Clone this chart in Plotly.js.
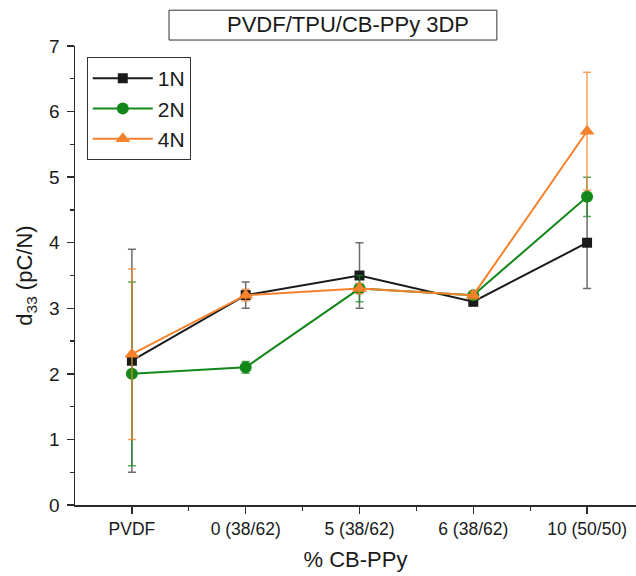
<!DOCTYPE html>
<html>
<head>
<meta charset="utf-8">
<script src="https://cdn.plot.ly/plotly-3.0.1.min.js"></script>
<style>
  html, body { margin: 0; padding: 0; background: #ffffff; }
  #chart { width: 636px; height: 576px; }
</style>
</head>
<body>
<div id="chart"></div>
<script>
// Sample groups along the x axis
const categories = ['PVDF', '0 (38/62)', '5 (38/62)', '6 (38/62)', '10 (50/50)'];

// d33 means and standard deviations for each applied force
const d33_1N = [2.2, 3.2, 3.5, 3.1, 4.0];
const err_1N = [1.7, 0.2, 0.5, 0.06, 0.7];

const d33_2N = [2.0, 2.1, 3.3, 3.2, 4.7];
const err_2N = [1.4, 0.09, 0.2, 0.06, 0.3];

const d33_4N = [2.3, 3.2, 3.3, 3.2, 5.7];
const err_4N = [1.3, 0.09, 0.08, 0.06, 0.9];

const seriesNames = ['1N', '2N', '4N'];
const yTicks = [0, 1, 2, 3, 4, 5, 6, 7];

const FONT = 'Arial, "Liberation Sans", sans-serif';
const AXIS = '#2b2b2b';

// positions of the groups on a linear axis, labelled with the category names
const xIdx = categories.map((_, i) => i);
const halfSteps = [];
for (let i = 0; i < categories.length; i++) halfSteps.push(i + 0.5);
const allSteps = xIdx.concat(halfSteps).sort((a, b) => a - b);

const xRange = [-0.5, 4.43];

function series(name, y, err, color, errColor, symbol, size) {
  return {
    type: 'scatter',
    mode: 'lines+markers',
    name: name,
    x: xIdx,
    y: y,
    line: { color: color, width: 2 },
    marker: { color: color, symbol: symbol, size: size },
    error_y: { type: 'data', array: err, visible: true, color: errColor, thickness: 1.5, width: 4 }
  };
}

const traces = [
  series(seriesNames[0], d33_1N, err_1N, '#1a1a1a', 'rgba(30,30,30,0.65)', 'square', 10),
  series(seriesNames[1], d33_2N, err_2N, '#13881a', 'rgba(19,136,26,0.7)', 'circle', 12),
  series(seriesNames[2], d33_4N, err_4N, '#f5822a', 'rgba(245,130,42,0.75)', 'triangle-up', 13)
];

const layout = {
  width: 636,
  height: 576,
  margin: { l: 75, r: 0, t: 46, b: 71 },
  paper_bgcolor: '#ffffff',
  plot_bgcolor: '#ffffff',
  font: { family: FONT, color: '#1a1a1a', size: 18 },
  showlegend: true,
  legend: {
    x: 0.021, y: 0.976, xanchor: 'left', yanchor: 'top',
    bordercolor: '#333333', borderwidth: 1, bgcolor: '#ffffff',
    font: { family: FONT, size: 21, color: '#1a1a1a' },
    itemwidth: 60,
    tracegroupgap: 0
  },
  xaxis: {
    range: xRange,
    tickmode: 'array',
    tickvals: xIdx,
    ticktext: categories,
    showgrid: false, zeroline: false,
    showline: true, linecolor: AXIS, linewidth: 1.5,
    ticks: 'outside', ticklen: 7, tickwidth: 1.3, tickcolor: AXIS,
    tickfont: { family: FONT, size: 17.5, color: '#1a1a1a' },
    minor: { tickmode: 'array', tickvals: halfSteps, ticks: 'outside', ticklen: 4, tickwidth: 1.3, tickcolor: AXIS, showgrid: false },
    title: { text: '% CB-PPy', font: { family: FONT, size: 22, color: '#1a1a1a' }, standoff: 14 },
    fixedrange: true
  },
  xaxis2: {
    overlaying: 'x', anchor: 'y', side: 'top',
    range: xRange,
    tickmode: 'array', tickvals: allSteps,
    showticklabels: false, showgrid: false, zeroline: false,
    showline: true, linecolor: AXIS, linewidth: 1.5,
    ticks: 'inside', ticklen: 4, tickwidth: 1.2, tickcolor: AXIS
  },
  yaxis: {
    range: [0, 7],
    tickmode: 'array', tickvals: yTicks,
    showgrid: false, zeroline: false,
    showline: true, linecolor: AXIS, linewidth: 1.5,
    ticks: 'outside', ticklen: 7, tickwidth: 1.3, tickcolor: AXIS,
    tickfont: { family: FONT, size: 19, color: '#1a1a1a' },
    ticklabelstandoff: 3,
    minor: { dtick: 0.5, ticks: 'outside', ticklen: 4, tickwidth: 1.3, tickcolor: AXIS, showgrid: false },
    title: { text: 'd<sub>33</sub> (pC/N)', font: { family: FONT, size: 22, color: '#1a1a1a' }, standoff: 10 },
    fixedrange: true
  },
  shapes: [
    { type: 'rect', xref: 'paper', yref: 'paper', x0: 0.1676, x1: 0.752, y0: 1.013, y1: 1.078,
      line: { color: '#333333', width: 1 }, fillcolor: 'rgba(0,0,0,0)', layer: 'above' }
  ],
  annotations: [
    { text: 'PVDF/TPU/CB-PPy 3DP', xref: 'paper', yref: 'paper', x: 0.487, y: 1.046,
      xanchor: 'center', yanchor: 'middle', showarrow: false,
      font: { family: FONT, size: 22, color: '#1a1a1a' } }
  ]
};

Plotly.newPlot('chart', traces, layout, { displayModeBar: false, staticPlot: true });
</script>
</body>
</html>
